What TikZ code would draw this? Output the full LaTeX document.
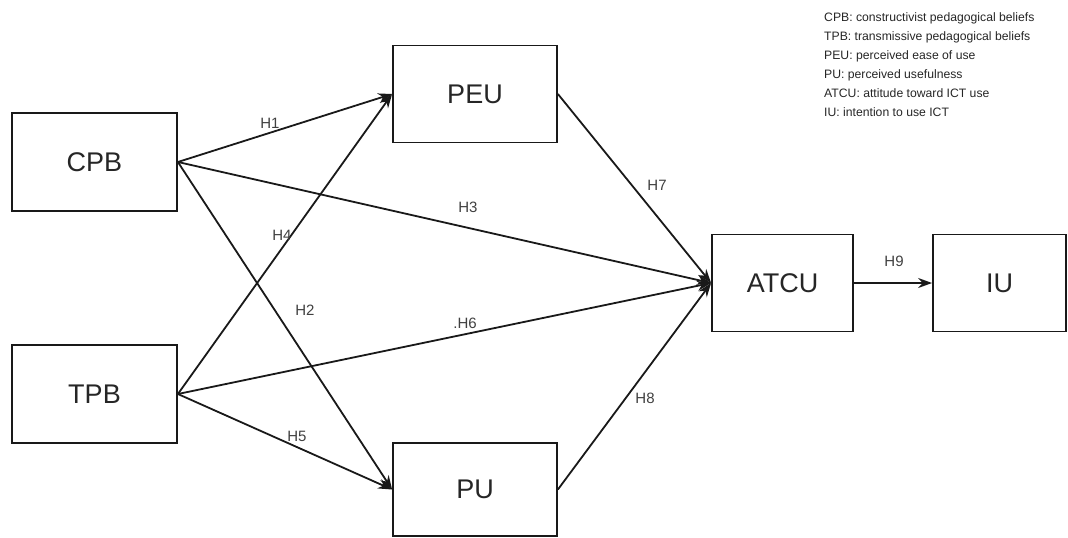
\documentclass[tikz,border=0pt]{standalone}
\usepackage{fontspec}
\setmainfont{Liberation Sans}
\usetikzlibrary{arrows.meta}
\begin{document}
\begin{tikzpicture}[x=1pt,y=-1pt,
  box/.style={draw=black!90,line width=1.8pt,fill=white,inner sep=0pt,
    font=\fontsize{27}{30}\selectfont,text=black!85},
  link/.style={line width=1.8pt,draw=black!90,-{Stealth[length=14pt,width=10pt]}},
  hlab/.style={font=\fontsize{15}{17}\selectfont,text=black!75,inner sep=0pt}]
\useasboundingbox (0,0) rectangle (1068,538);
\node[box,minimum width=165pt,minimum height=98pt] (CPB) at (94.5,162) {CPB};
\node[box,minimum width=165pt,minimum height=98pt] (TPB) at (94.5,394) {TPB};
\node[box,minimum width=164pt,minimum height=97pt] (PEU) at (475,94) {PEU};
\node[box,minimum width=164pt,minimum height=93pt] (PU) at (475,489.5) {PU};
\node[box,minimum width=141pt,minimum height=97pt] (ATCU) at (782.5,283) {ATCU};
\node[box,minimum width=133pt,minimum height=97pt] (IU) at (999.5,283) {IU};

\draw[link] (CPB.east) -- (PEU.west);
\draw[link] (CPB.east) -- (PU.west);
\draw[link] (CPB.east) -- (ATCU.west);
\draw[link] (TPB.east) -- (PEU.west);
\draw[link] (TPB.east) -- (PU.west);
\draw[link] (TPB.east) -- (ATCU.west);
\draw[link] (PEU.east) -- (ATCU.west);
\draw[link] (PU.east) -- (ATCU.west);
\draw[link] (ATCU.east) -- (IU.west);

\node[hlab] (h1) at (270,123) {H1};
\node[hlab] (h2) at (305,310) {H2};
\node[hlab] (h3) at (468,207) {H3};
\node[hlab] (h4) at (282,235) {H4};
\node[hlab] (h5) at (297,436) {H5};
\node[hlab] (h6) at (465,323) {.H6};
\node[hlab] (h7) at (657,185) {H7};
\node[hlab] (h8) at (645,398) {H8};
\node[hlab] (h9) at (894,261) {H9};

\node[anchor=north west,align=left,inner sep=0pt,text=black!85,
  font=\fontsize{12.2}{19}\selectfont] (legend) at (824,12)
  {CPB: constructivist pedagogical beliefs\\
   TPB: transmissive pedagogical beliefs\\
   PEU: perceived ease of use\\
   PU: perceived usefulness\\
   ATCU: attitude toward ICT use\\
   IU: intention to use ICT};
\end{tikzpicture}
\end{document}
